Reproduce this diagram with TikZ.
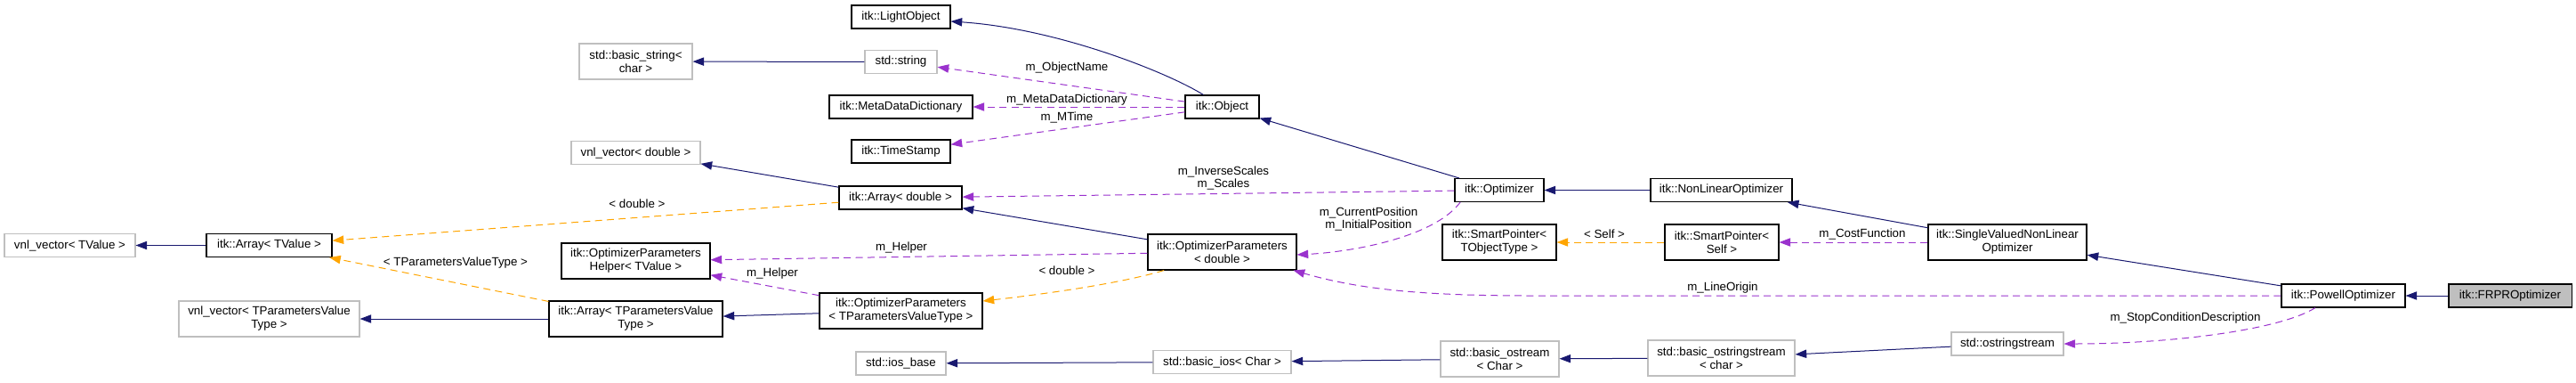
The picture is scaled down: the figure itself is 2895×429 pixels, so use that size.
\documentclass[tikz,border=0pt]{standalone}
\usepackage{fontspec}
\setmainfont{Liberation Sans}
\usepackage{tikz}
\usetikzlibrary{arrows.meta}
\definecolor{azulheranca}{HTML}{191970}
\definecolor{roxouso}{HTML}{9A32CD}
\definecolor{laranjamodelo}{HTML}{FFA500}
\definecolor{cinza75}{HTML}{BFBFBF}
\tikzset{
  caixa/.style={draw=black, line width=0.8pt, fill=white, align=center, inner sep=0pt,
    minimum height=19.5pt, minimum width=0.75pt*#1, font=\fontsize{10}{11.25}\selectfont},
  caixa/.default=100,
  externa/.style={caixa=#1, draw=cinza75},
  alta/.style={minimum height=30pt},
  heranca/.style={-{Triangle[length=9.5pt,width=7pt]}, draw=azulheranca, line width=0.75pt},
  uso/.style={-{Triangle[length=9.5pt,width=7pt]}, draw=roxouso, line width=0.75pt, dash pattern=on 6pt off 4pt},
  modelo/.style={-{Triangle[length=9.5pt,width=7pt]}, draw=laranjamodelo, line width=0.75pt, dash pattern=on 6pt off 4pt},
  rotulo/.style={inner sep=0pt, align=center, font=\fontsize{10}{10.5}\selectfont},
}
\begin{document}
\begin{tikzpicture}[x=0.75pt, y=-0.75pt]
  \useasboundingbox (0,0) rectangle (2895,429);
  % classes
  \node[caixa=138, fill=cinza75] (frpr) at (2821,332) {itk::FRPROptimizer};
  \node[caixa=139] (powell) at (2633.5,332) {itk::PowellOptimizer};
  \node[caixa=178, alta] (svnlo) at (2256,272) {itk::SingleValuedNonLinear\\Optimizer};
  \node[externa=126] (ostr) at (2256,386) {std::ostringstream};
  \node[caixa=159] (nlo) at (1934.5,213.5) {itk::NonLinearOptimizer};
  \node[caixa=128, alta] (spself) at (1935,272) {itk::SmartPointer<\\Self >};
  \node[externa=165, alta] (bostrs) at (1934.5,402) {std::basic\_ostringstream\\< char >};
  \node[caixa=100] (otim) at (1685,213.5) {itk::Optimizer};
  \node[caixa=128, alta] (sptobj) at (1685,272) {itk::SmartPointer<\\TObjectType >};
  \node[externa=133, alta] (bostream) at (1685.5,403) {std::basic\_ostream\\< Char >};
  \node[caixa=83] (objeto) at (1373.5,120) {itk::Object};
  \node[caixa=167, alta] (opdouble) at (1373.5,283) {itk::OptimizerParameters\\< double >};
  \node[externa=155] (bios) at (1373.5,406.5) {std::basic\_ios< Char >};
  \node[caixa=111] (light) at (1012.5,19) {itk::LightObject};
  \node[externa=81] (string) at (1012.5,69.5) {std::string};
  \node[caixa=161] (mdd) at (1012.5,120) {itk::MetaDataDictionary};
  \node[caixa=111] (tstamp) at (1012.5,170) {itk::TimeStamp};
  \node[caixa=138] (arrdouble) at (1012,222) {itk::Array< double >};
  \node[caixa=167, alta] (ophelper) at (714.5,293) {itk::OptimizerParameters\\Helper< TValue >};
  \node[caixa=183, alta] (optpvt) at (1012.5,349) {itk::OptimizerParameters\\< TParametersValueType >};
  \node[externa=101] (iosbase) at (1012.5,408) {std::ios\_base};
  \node[externa=127, alta] (bstring) at (714.5,69) {std::basic\_string<\\char >};
  \node[externa=145] (vnldouble) at (714.5,171.5) {vnl\_vector< double >};
  \node[caixa=195, alta] (arrtpvt) at (714.5,358) {itk::Array< TParametersValue\\Type >};
  \node[caixa=141] (arrtvalue) at (302.5,275.5) {itk::Array< TValue >};
  \node[externa=203, alta] (vnltpvt) at (302.5,358) {vnl\_vector< TParametersValue\\Type >};
  \node[externa=147] (vnltvalue) at (78.5,275.5) {vnl\_vector< TValue >};
  % heranca
  \draw[heranca] (frpr) -- (powell);
  \draw[heranca] (powell) -- (svnlo);
  \draw[heranca] (svnlo) -- (nlo);
  \draw[heranca] (nlo) -- (otim);
  \draw[heranca] (otim) -- (objeto);
  \draw[heranca] ([xshift=-15.75pt]objeto.north) .. controls +(-40,-25) and +(120,8) .. ([yshift=-3.75pt]light.east);
  \draw[heranca] (opdouble) -- (arrdouble);
  \draw[heranca] (arrdouble) -- (vnldouble);
  \draw[heranca] (optpvt) -- (arrtpvt);
  \draw[heranca] (arrtpvt) -- (vnltpvt);
  \draw[heranca] (arrtvalue) -- (vnltvalue);
  \draw[heranca] (string) -- (bstring);
  \draw[heranca] (ostr) -- (bostrs);
  \draw[heranca] (bostrs) -- (bostream);
  \draw[heranca] (bostream) -- (bios);
  \draw[heranca] (bios) -- (iosbase);
  % membros
  \draw[uso] (powell.west) -- ++(-844,0) .. controls +(-130,0) and +(70,20) .. ([xshift=-3pt]opdouble.south east);
  \draw[uso] ([xshift=-23.6pt]powell.south) .. controls +(-40,25) and +(120,0) .. (ostr.east);
  \draw[uso] (svnlo) -- (spself);
  \draw[uso] ([xshift=5pt]otim.south west) .. controls +(-30,40) and +(60,-3) .. ([yshift=-2.25pt]opdouble.east);
  \draw[uso] (otim) -- (arrdouble);
  \draw[uso] (objeto) -- (string);
  \draw[uso] (objeto) -- (mdd);
  \draw[uso] (objeto) -- (tstamp);
  \draw[uso] (opdouble) -- (ophelper);
  \draw[uso] (optpvt) -- (ophelper);
  % templates
  \draw[modelo] (arrdouble) -- (arrtvalue);
  \draw[modelo] (arrtpvt) -- (arrtvalue);
  \draw[modelo] ([xshift=-49pt]opdouble.south) .. controls +(-50,15) and +(70,-8) .. ([yshift=8.25pt]optpvt.east);
  \draw[modelo] (spself) -- (sptobj);
  % rotulos
  \node[rotulo] (r_lineorigin) at (1936,323) {m\_LineOrigin};
  \node[rotulo] (r_stopcond) at (2456,357) {m\_StopConditionDescription};
  \node[rotulo] (r_costfunc) at (2093,263) {m\_CostFunction};
  \node[rotulo] (r_posicao) at (1538,246) {m\_CurrentPosition\\m\_InitialPosition};
  \node[rotulo] (r_escalas) at (1375,200) {m\_InverseScales\\m\_Scales};
  \node[rotulo] (r_objname) at (1199,76) {m\_ObjectName};
  \node[rotulo] (r_mdd) at (1199,112) {m\_MetaDataDictionary};
  \node[rotulo] (r_mtime) at (1199,132) {m\_MTime};
  \node[rotulo] (r_helper1) at (1013,278) {m\_Helper};
  \node[rotulo] (r_helper2) at (868,307) {m\_Helper};
  \node[rotulo] (r_double1) at (716,229) {< double >};
  \node[rotulo] (r_tpvt) at (512,295) {< TParametersValueType >};
  \node[rotulo] (r_double2) at (1199,304) {< double >};
  \node[rotulo] (r_self) at (1803,263) {< Self >};
\end{tikzpicture}
\end{document}
